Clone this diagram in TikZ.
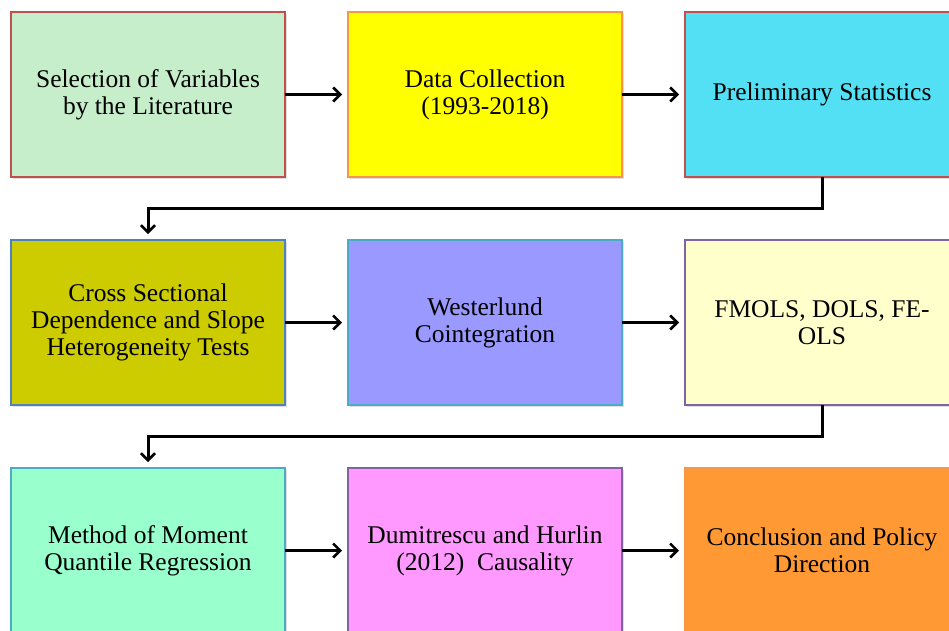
\documentclass[tikz,border=0pt]{standalone}
\usepackage{fontspec}
\setmainfont{Liberation Serif}
\usetikzlibrary{positioning,arrows.meta,shadows}
\definecolor{cgreen}{RGB}{198,238,202}
\definecolor{cyellow}{RGB}{255,255,0}
\definecolor{ccyan}{RGB}{83,224,245}
\definecolor{colive}{RGB}{204,204,0}
\definecolor{cviolet}{RGB}{153,153,255}
\definecolor{ccream}{RGB}{255,255,204}
\definecolor{cmint}{RGB}{153,255,204}
\definecolor{cpink}{RGB}{255,153,255}
\definecolor{corange}{RGB}{255,153,51}
\definecolor{bred}{RGB}{192,80,77}
\definecolor{borange}{RGB}{247,150,70}
\definecolor{bblue}{RGB}{79,129,189}
\definecolor{baqua}{RGB}{75,172,198}
\definecolor{bpurple}{RGB}{128,100,162}
\tikzset{
  box/.style={rectangle, draw, line width=1.2pt, minimum width=274pt, minimum height=165pt,
    inner sep=0pt, outer sep=0pt, align=center, font=\fontsize{25.5}{27}\selectfont,
    drop shadow={opacity=0.25, shadow xshift=2pt, shadow yshift=-2pt}},
  flow/.style={line width=3pt, -{Straight Barb[length=7pt,width=14pt,line width=2.6pt]}, shorten >=6pt},
}
\begin{document}
\begin{tikzpicture}[x=1pt,y=-1pt]
\useasboundingbox (0,0) rectangle (949,630);
\clip (0,0) rectangle (949,630);

% Define nodes

\node[box, fill=cgreen, draw=bred]          (sel) at (148,94.5) {Selection of Variables\\by the Literature};
\node[box, fill=cyellow, draw=borange, right=63pt of sel]  (data) {Data Collection\\(1993-2018)};
\node[box, fill=ccyan, draw=bred, right=63pt of data]      (prelim) {Preliminary Statistics};

\node[box, fill=colive, draw=bblue, below=63pt of sel]     (csd) {Cross Sectional\\Dependence and Slope\\Heterogeneity Tests};
\node[box, fill=cviolet, draw=baqua, right=63pt of csd]    (west) {Westerlund\\Cointegration};
\node[box, fill=ccream, draw=bpurple, right=63pt of west]  (fmols) {FMOLS, DOLS, FE-\\OLS};

\node[box, fill=cmint, draw=baqua, below=63pt of csd]      (mmqr) {Method of Moment\\Quantile Regression};
\node[box, fill=cpink, draw=bpurple, right=63pt of mmqr]   (dh) {Dumitrescu and Hurlin\\(2012)\ \ Causality};
\node[box, fill=corange, draw=borange, right=63pt of dh]   (concl) {Conclusion and Policy\\Direction};

% Connect the nodes
\draw[flow] (sel) -- (data);
\draw[flow] (data) -- (prelim);
\draw[flow] (prelim.south) -- ++(0,31) -| (csd.north);
\draw[flow] (csd) -- (west);
\draw[flow] (west) -- (fmols);
\draw[flow] (fmols.south) -- ++(0,31) -| (mmqr.north);
\draw[flow] (mmqr) -- (dh);
\draw[flow] (dh) -- (concl);

\end{tikzpicture}
\end{document}
